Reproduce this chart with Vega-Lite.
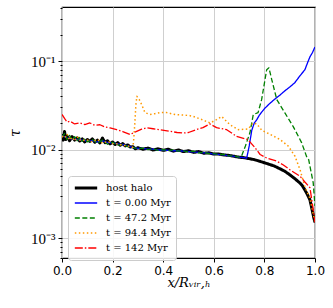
{
  "$schema": "https://vega.github.io/schema/vega-lite/v6.json",
  "width": 253,
  "height": 251,
  "autosize": {"type": "none"},
  "padding": {"left": 62, "top": 7, "right": 18, "bottom": 50},
  "background": "white",
  "config": {
    "view": {"stroke": "black", "strokeWidth": 1.2},
    "axis": {"gridColor": "#cfcfcf", "gridWidth": 1, "domain": false, "tickColor": "black", "labelColor": "black", "titleColor": "black"}
  },
  "datasets": {
    "d": [
      {"s":"host halo","x":0.00,"y":0.0150},{"s":"host halo","x":0.005,"y":0.0128},{"s":"host halo","x":0.01,"y":0.0160},{"s":"host halo","x":0.015,"y":0.0130},{"s":"host halo","x":0.02,"y":0.0142},{"s":"host halo","x":0.03,"y":0.0126},{"s":"host halo","x":0.04,"y":0.0140},{"s":"host halo","x":0.05,"y":0.0128},{"s":"host halo","x":0.06,"y":0.0136},{"s":"host halo","x":0.07,"y":0.0125},{"s":"host halo","x":0.08,"y":0.0132},{"s":"host halo","x":0.09,"y":0.0122},{"s":"host halo","x":0.10,"y":0.0130},{"s":"host halo","x":0.11,"y":0.0124},{"s":"host halo","x":0.12,"y":0.0132},{"s":"host halo","x":0.13,"y":0.0121},{"s":"host halo","x":0.14,"y":0.0128},{"s":"host halo","x":0.15,"y":0.0119},{"s":"host halo","x":0.16,"y":0.0135},{"s":"host halo","x":0.17,"y":0.0120},{"s":"host halo","x":0.18,"y":0.0126},{"s":"host halo","x":0.19,"y":0.0116},{"s":"host halo","x":0.20,"y":0.0122},{"s":"host halo","x":0.21,"y":0.0114},{"s":"host halo","x":0.22,"y":0.0120},{"s":"host halo","x":0.23,"y":0.0112},{"s":"host halo","x":0.24,"y":0.0117},{"s":"host halo","x":0.25,"y":0.0110},{"s":"host halo","x":0.26,"y":0.0113},{"s":"host halo","x":0.27,"y":0.0107},{"s":"host halo","x":0.28,"y":0.0108},{"s":"host halo","x":0.29,"y":0.0102},{"s":"host halo","x":0.30,"y":0.0105},{"s":"host halo","x":0.32,"y":0.0101},{"s":"host halo","x":0.34,"y":0.0104},{"s":"host halo","x":0.36,"y":0.0099},{"s":"host halo","x":0.38,"y":0.0102},{"s":"host halo","x":0.40,"y":0.0098},{"s":"host halo","x":0.42,"y":0.0101},{"s":"host halo","x":0.44,"y":0.0096},{"s":"host halo","x":0.46,"y":0.0099},{"s":"host halo","x":0.48,"y":0.0095},{"s":"host halo","x":0.50,"y":0.0097},{"s":"host halo","x":0.52,"y":0.0093},{"s":"host halo","x":0.54,"y":0.0095},{"s":"host halo","x":0.56,"y":0.0091},{"s":"host halo","x":0.58,"y":0.0092},{"s":"host halo","x":0.60,"y":0.0089},{"s":"host halo","x":0.62,"y":0.0089},{"s":"host halo","x":0.64,"y":0.0087},{"s":"host halo","x":0.66,"y":0.0086},{"s":"host halo","x":0.68,"y":0.0084},{"s":"host halo","x":0.70,"y":0.0082},{"s":"host halo","x":0.72,"y":0.0081},{"s":"host halo","x":0.74,"y":0.0079},{"s":"host halo","x":0.76,"y":0.0077},{"s":"host halo","x":0.78,"y":0.0074},{"s":"host halo","x":0.80,"y":0.0071},{"s":"host halo","x":0.82,"y":0.0068},{"s":"host halo","x":0.84,"y":0.0065},{"s":"host halo","x":0.86,"y":0.0061},{"s":"host halo","x":0.88,"y":0.0057},{"s":"host halo","x":0.90,"y":0.0052},{"s":"host halo","x":0.92,"y":0.0047},{"s":"host halo","x":0.94,"y":0.0042},{"s":"host halo","x":0.95,"y":0.0039},{"s":"host halo","x":0.96,"y":0.0035},{"s":"host halo","x":0.97,"y":0.0031},{"s":"host halo","x":0.98,"y":0.0027},{"s":"host halo","x":0.99,"y":0.0020},{"s":"host halo","x":0.995,"y":0.0017},{"s":"host halo","x":1.00,"y":0.0015},

      {"s":"t = 0.00 Myr","x":0.00,"y":0.0145},{"s":"t = 0.00 Myr","x":0.02,"y":0.0135},{"s":"t = 0.00 Myr","x":0.04,"y":0.0132},{"s":"t = 0.00 Myr","x":0.06,"y":0.0130},{"s":"t = 0.00 Myr","x":0.08,"y":0.0128},{"s":"t = 0.00 Myr","x":0.10,"y":0.0125},{"s":"t = 0.00 Myr","x":0.12,"y":0.0126},{"s":"t = 0.00 Myr","x":0.14,"y":0.0122},{"s":"t = 0.00 Myr","x":0.16,"y":0.0126},{"s":"t = 0.00 Myr","x":0.18,"y":0.0120},{"s":"t = 0.00 Myr","x":0.20,"y":0.0119},{"s":"t = 0.00 Myr","x":0.22,"y":0.0116},{"s":"t = 0.00 Myr","x":0.24,"y":0.0114},{"s":"t = 0.00 Myr","x":0.26,"y":0.0110},{"s":"t = 0.00 Myr","x":0.28,"y":0.0106},{"s":"t = 0.00 Myr","x":0.30,"y":0.0103},{"s":"t = 0.00 Myr","x":0.32,"y":0.0103},{"s":"t = 0.00 Myr","x":0.34,"y":0.0101},{"s":"t = 0.00 Myr","x":0.36,"y":0.0101},{"s":"t = 0.00 Myr","x":0.38,"y":0.0099},{"s":"t = 0.00 Myr","x":0.40,"y":0.0099},{"s":"t = 0.00 Myr","x":0.42,"y":0.0098},{"s":"t = 0.00 Myr","x":0.44,"y":0.0097},{"s":"t = 0.00 Myr","x":0.46,"y":0.0097},{"s":"t = 0.00 Myr","x":0.48,"y":0.0096},{"s":"t = 0.00 Myr","x":0.50,"y":0.0095},{"s":"t = 0.00 Myr","x":0.52,"y":0.0094},{"s":"t = 0.00 Myr","x":0.54,"y":0.0093},{"s":"t = 0.00 Myr","x":0.56,"y":0.0092},{"s":"t = 0.00 Myr","x":0.58,"y":0.0091},{"s":"t = 0.00 Myr","x":0.60,"y":0.0089},{"s":"t = 0.00 Myr","x":0.62,"y":0.0088},{"s":"t = 0.00 Myr","x":0.64,"y":0.0087},{"s":"t = 0.00 Myr","x":0.66,"y":0.0085},{"s":"t = 0.00 Myr","x":0.68,"y":0.0084},{"s":"t = 0.00 Myr","x":0.70,"y":0.0082},{"s":"t = 0.00 Myr","x":0.72,"y":0.0081},{"s":"t = 0.00 Myr","x":0.73,"y":0.0080},{"s":"t = 0.00 Myr","x":0.74,"y":0.0110},{"s":"t = 0.00 Myr","x":0.75,"y":0.0165},{"s":"t = 0.00 Myr","x":0.76,"y":0.0200},{"s":"t = 0.00 Myr","x":0.77,"y":0.0218},{"s":"t = 0.00 Myr","x":0.78,"y":0.0245},{"s":"t = 0.00 Myr","x":0.80,"y":0.0290},{"s":"t = 0.00 Myr","x":0.82,"y":0.0330},{"s":"t = 0.00 Myr","x":0.84,"y":0.0370},{"s":"t = 0.00 Myr","x":0.86,"y":0.0410},{"s":"t = 0.00 Myr","x":0.88,"y":0.0460},{"s":"t = 0.00 Myr","x":0.90,"y":0.0510},{"s":"t = 0.00 Myr","x":0.92,"y":0.0570},{"s":"t = 0.00 Myr","x":0.94,"y":0.0680},{"s":"t = 0.00 Myr","x":0.96,"y":0.0800},{"s":"t = 0.00 Myr","x":0.97,"y":0.0950},{"s":"t = 0.00 Myr","x":0.98,"y":0.1120},{"s":"t = 0.00 Myr","x":0.99,"y":0.1250},{"s":"t = 0.00 Myr","x":1.00,"y":0.1450},

      {"s":"t = 47.2 Myr","x":0.00,"y":0.0138},{"s":"t = 47.2 Myr","x":0.01,"y":0.0152},{"s":"t = 47.2 Myr","x":0.02,"y":0.0130},{"s":"t = 47.2 Myr","x":0.03,"y":0.0145},{"s":"t = 47.2 Myr","x":0.04,"y":0.0128},{"s":"t = 47.2 Myr","x":0.05,"y":0.0140},{"s":"t = 47.2 Myr","x":0.06,"y":0.0126},{"s":"t = 47.2 Myr","x":0.07,"y":0.0137},{"s":"t = 47.2 Myr","x":0.08,"y":0.0124},{"s":"t = 47.2 Myr","x":0.09,"y":0.0133},{"s":"t = 47.2 Myr","x":0.10,"y":0.0122},{"s":"t = 47.2 Myr","x":0.12,"y":0.0130},{"s":"t = 47.2 Myr","x":0.14,"y":0.0118},{"s":"t = 47.2 Myr","x":0.16,"y":0.0128},{"s":"t = 47.2 Myr","x":0.18,"y":0.0115},{"s":"t = 47.2 Myr","x":0.20,"y":0.0121},{"s":"t = 47.2 Myr","x":0.22,"y":0.0112},{"s":"t = 47.2 Myr","x":0.24,"y":0.0115},{"s":"t = 47.2 Myr","x":0.26,"y":0.0108},{"s":"t = 47.2 Myr","x":0.28,"y":0.0106},{"s":"t = 47.2 Myr","x":0.30,"y":0.0102},{"s":"t = 47.2 Myr","x":0.32,"y":0.0104},{"s":"t = 47.2 Myr","x":0.34,"y":0.0100},{"s":"t = 47.2 Myr","x":0.36,"y":0.0102},{"s":"t = 47.2 Myr","x":0.38,"y":0.0098},{"s":"t = 47.2 Myr","x":0.40,"y":0.0100},{"s":"t = 47.2 Myr","x":0.42,"y":0.0097},{"s":"t = 47.2 Myr","x":0.44,"y":0.0099},{"s":"t = 47.2 Myr","x":0.46,"y":0.0096},{"s":"t = 47.2 Myr","x":0.48,"y":0.0097},{"s":"t = 47.2 Myr","x":0.50,"y":0.0094},{"s":"t = 47.2 Myr","x":0.52,"y":0.0096},{"s":"t = 47.2 Myr","x":0.54,"y":0.0092},{"s":"t = 47.2 Myr","x":0.56,"y":0.0093},{"s":"t = 47.2 Myr","x":0.58,"y":0.0090},{"s":"t = 47.2 Myr","x":0.60,"y":0.0090},{"s":"t = 47.2 Myr","x":0.62,"y":0.0088},{"s":"t = 47.2 Myr","x":0.64,"y":0.0088},{"s":"t = 47.2 Myr","x":0.66,"y":0.0085},{"s":"t = 47.2 Myr","x":0.68,"y":0.0085},{"s":"t = 47.2 Myr","x":0.70,"y":0.0082},{"s":"t = 47.2 Myr","x":0.71,"y":0.0085},{"s":"t = 47.2 Myr","x":0.725,"y":0.0110},{"s":"t = 47.2 Myr","x":0.743,"y":0.0156},{"s":"t = 47.2 Myr","x":0.756,"y":0.0249},{"s":"t = 47.2 Myr","x":0.775,"y":0.0262},{"s":"t = 47.2 Myr","x":0.789,"y":0.0367},{"s":"t = 47.2 Myr","x":0.809,"y":0.0800},{"s":"t = 47.2 Myr","x":0.818,"y":0.0840},{"s":"t = 47.2 Myr","x":0.829,"y":0.0620},{"s":"t = 47.2 Myr","x":0.849,"y":0.0367},{"s":"t = 47.2 Myr","x":0.881,"y":0.0260},{"s":"t = 47.2 Myr","x":0.914,"y":0.0182},{"s":"t = 47.2 Myr","x":0.947,"y":0.0120},{"s":"t = 47.2 Myr","x":0.967,"y":0.0083},{"s":"t = 47.2 Myr","x":0.975,"y":0.0077},{"s":"t = 47.2 Myr","x":0.993,"y":0.0042},{"s":"t = 47.2 Myr","x":1.00,"y":0.0023},

      {"s":"t = 94.4 Myr","x":0.00,"y":0.0142},{"s":"t = 94.4 Myr","x":0.01,"y":0.0135},{"s":"t = 94.4 Myr","x":0.02,"y":0.0150},{"s":"t = 94.4 Myr","x":0.03,"y":0.0128},{"s":"t = 94.4 Myr","x":0.04,"y":0.0138},{"s":"t = 94.4 Myr","x":0.05,"y":0.0125},{"s":"t = 94.4 Myr","x":0.06,"y":0.0140},{"s":"t = 94.4 Myr","x":0.07,"y":0.0128},{"s":"t = 94.4 Myr","x":0.08,"y":0.0130},{"s":"t = 94.4 Myr","x":0.09,"y":0.0126},{"s":"t = 94.4 Myr","x":0.10,"y":0.0128},{"s":"t = 94.4 Myr","x":0.12,"y":0.0122},{"s":"t = 94.4 Myr","x":0.14,"y":0.0130},{"s":"t = 94.4 Myr","x":0.16,"y":0.0118},{"s":"t = 94.4 Myr","x":0.18,"y":0.0124},{"s":"t = 94.4 Myr","x":0.20,"y":0.0117},{"s":"t = 94.4 Myr","x":0.22,"y":0.0116},{"s":"t = 94.4 Myr","x":0.24,"y":0.0112},{"s":"t = 94.4 Myr","x":0.26,"y":0.0110},{"s":"t = 94.4 Myr","x":0.28,"y":0.0106},{"s":"t = 94.4 Myr","x":0.283,"y":0.0125},{"s":"t = 94.4 Myr","x":0.288,"y":0.0200},{"s":"t = 94.4 Myr","x":0.292,"y":0.0320},{"s":"t = 94.4 Myr","x":0.296,"y":0.0400},{"s":"t = 94.4 Myr","x":0.305,"y":0.0370},{"s":"t = 94.4 Myr","x":0.315,"y":0.0322},{"s":"t = 94.4 Myr","x":0.328,"y":0.0262},{"s":"t = 94.4 Myr","x":0.348,"y":0.0249},{"s":"t = 94.4 Myr","x":0.367,"y":0.0255},{"s":"t = 94.4 Myr","x":0.387,"y":0.0262},{"s":"t = 94.4 Myr","x":0.414,"y":0.0262},{"s":"t = 94.4 Myr","x":0.447,"y":0.0249},{"s":"t = 94.4 Myr","x":0.480,"y":0.0246},{"s":"t = 94.4 Myr","x":0.506,"y":0.0242},{"s":"t = 94.4 Myr","x":0.519,"y":0.0237},{"s":"t = 94.4 Myr","x":0.550,"y":0.0220},{"s":"t = 94.4 Myr","x":0.585,"y":0.0200},{"s":"t = 94.4 Myr","x":0.611,"y":0.0218},{"s":"t = 94.4 Myr","x":0.631,"y":0.0237},{"s":"t = 94.4 Myr","x":0.664,"y":0.0191},{"s":"t = 94.4 Myr","x":0.697,"y":0.0168},{"s":"t = 94.4 Myr","x":0.736,"y":0.0171},{"s":"t = 94.4 Myr","x":0.755,"y":0.0200},{"s":"t = 94.4 Myr","x":0.770,"y":0.0195},{"s":"t = 94.4 Myr","x":0.790,"y":0.0165},{"s":"t = 94.4 Myr","x":0.820,"y":0.0150},{"s":"t = 94.4 Myr","x":0.862,"y":0.0130},{"s":"t = 94.4 Myr","x":0.895,"y":0.0109},{"s":"t = 94.4 Myr","x":0.921,"y":0.0084},{"s":"t = 94.4 Myr","x":0.941,"y":0.0059},{"s":"t = 94.4 Myr","x":0.960,"y":0.0038},{"s":"t = 94.4 Myr","x":0.980,"y":0.0028},{"s":"t = 94.4 Myr","x":1.00,"y":0.0015},

      {"s":"t = 142 Myr","x":0.00,"y":0.0250},{"s":"t = 142 Myr","x":0.01,"y":0.0225},{"s":"t = 142 Myr","x":0.02,"y":0.0205},{"s":"t = 142 Myr","x":0.032,"y":0.0209},{"s":"t = 142 Myr","x":0.05,"y":0.0195},{"s":"t = 142 Myr","x":0.071,"y":0.0200},{"s":"t = 142 Myr","x":0.09,"y":0.0192},{"s":"t = 142 Myr","x":0.11,"y":0.0200},{"s":"t = 142 Myr","x":0.13,"y":0.0188},{"s":"t = 142 Myr","x":0.15,"y":0.0191},{"s":"t = 142 Myr","x":0.17,"y":0.0180},{"s":"t = 142 Myr","x":0.19,"y":0.0176},{"s":"t = 142 Myr","x":0.216,"y":0.0168},{"s":"t = 142 Myr","x":0.24,"y":0.0160},{"s":"t = 142 Myr","x":0.269,"y":0.0148},{"s":"t = 142 Myr","x":0.295,"y":0.0161},{"s":"t = 142 Myr","x":0.315,"y":0.0170},{"s":"t = 142 Myr","x":0.335,"y":0.0176},{"s":"t = 142 Myr","x":0.36,"y":0.0172},{"s":"t = 142 Myr","x":0.387,"y":0.0168},{"s":"t = 142 Myr","x":0.427,"y":0.0161},{"s":"t = 142 Myr","x":0.455,"y":0.0156},{"s":"t = 142 Myr","x":0.48,"y":0.0154},{"s":"t = 142 Myr","x":0.50,"y":0.0156},{"s":"t = 142 Myr","x":0.53,"y":0.0168},{"s":"t = 142 Myr","x":0.557,"y":0.0177},{"s":"t = 142 Myr","x":0.585,"y":0.0195},{"s":"t = 142 Myr","x":0.611,"y":0.0177},{"s":"t = 142 Myr","x":0.651,"y":0.0168},{"s":"t = 142 Myr","x":0.69,"y":0.0141},{"s":"t = 142 Myr","x":0.735,"y":0.0130},{"s":"t = 142 Myr","x":0.763,"y":0.0105},{"s":"t = 142 Myr","x":0.783,"y":0.0088},{"s":"t = 142 Myr","x":0.81,"y":0.0080},{"s":"t = 142 Myr","x":0.849,"y":0.0074},{"s":"t = 142 Myr","x":0.875,"y":0.0067},{"s":"t = 142 Myr","x":0.901,"y":0.0059},{"s":"t = 142 Myr","x":0.941,"y":0.0050},{"s":"t = 142 Myr","x":0.96,"y":0.0043},{"s":"t = 142 Myr","x":0.98,"y":0.0037},{"s":"t = 142 Myr","x":0.99,"y":0.0024},{"s":"t = 142 Myr","x":1.00,"y":0.0015}
    ]
  },
  "data": {"name": "d"},
  "layer": [
    {
      "mark": {"type": "line", "strokeJoin": "round", "clip": true},
      "encoding": {
        "x": {"field": "x", "type": "quantitative", "scale": {"domain": [0, 1], "nice": false, "zero": false},
          "axis": {"values": [0, 0.2, 0.4, 0.6, 0.8, 1.0], "format": ".1f", "title": "x/Rᵥᵢᵣ,ₕ", "titleFont": "DejaVu Serif", "titleFontStyle": "italic", "titleFontWeight": "normal", "titleFontSize": 13, "titlePadding": 0, "labelFont": "DejaVu Sans", "labelFontSize": 12, "labelPadding": 3, "tickSize": 4, "labelFlush": false}},
        "y": {"field": "y", "type": "quantitative", "scale": {"type": "log", "domain": [0.000594, 0.41], "nice": false},
          "axis": {"orient": "left", "values": [0.001, 0.01, 0.1], "labelExpr": "datum.value < 0.005 ? '10⁻³' : datum.value < 0.05 ? '10⁻²' : '10⁻¹'", "title": "τ", "titleFont": "DejaVu Serif", "titleFontStyle": "italic", "titleFontWeight": "normal", "titleFontSize": 14, "titlePadding": 8, "labelFont": "Liberation Serif", "labelFontSize": 15, "labelPadding": 3, "tickSize": 4}},
        "color": {"field": "s", "type": "nominal",
          "scale": {"domain": ["host halo", "t = 0.00 Myr", "t = 47.2 Myr", "t = 94.4 Myr", "t = 142 Myr"], "range": ["#000000", "#0000ff", "#008000", "#ff9900", "#ff0000"]},
          "legend": {"title": null, "orient": "none", "legendX": 6, "legendY": 169, "fillColor": "rgba(255,255,255,0.85)", "strokeColor": "#cccccc", "cornerRadius": 3, "padding": 5, "labelFont": "DejaVu Serif", "labelFontSize": 10, "labelOffset": 7, "symbolType": "stroke", "symbolSize": 500, "clipHeight": 14, "rowPadding": 1}},
        "strokeDash": {"field": "s", "type": "nominal",
          "scale": {"domain": ["host halo", "t = 0.00 Myr", "t = 47.2 Myr", "t = 94.4 Myr", "t = 142 Myr"], "range": [[1, 0], [1, 0], [5, 2.5], [1.5, 2.5], [8, 2, 1.5, 2]]}},
        "strokeWidth": {"field": "s", "type": "nominal",
          "scale": {"type": "ordinal", "domain": ["host halo", "t = 0.00 Myr", "t = 47.2 Myr", "t = 94.4 Myr", "t = 142 Myr"], "range": [3, 1.3, 1.3, 1.5, 1.3]}}
      }
    },
    {
      "mark": {"type": "line", "opacity": 0},
      "encoding": {
        "x": {"field": "x", "type": "quantitative"},
        "y": {"field": "y", "type": "quantitative",
          "axis": {"orient": "left", "values": [0.0006, 0.0007, 0.0008, 0.0009, 0.002, 0.003, 0.004, 0.005, 0.006, 0.007, 0.008, 0.009, 0.02, 0.03, 0.04, 0.05, 0.06, 0.07, 0.08, 0.09, 0.2, 0.3, 0.4], "labels": false, "grid": false, "title": null, "tickSize": 2, "domain": false}}
      }
    }
  ],
  "resolve": {"axis": {"y": "independent"}}
}
